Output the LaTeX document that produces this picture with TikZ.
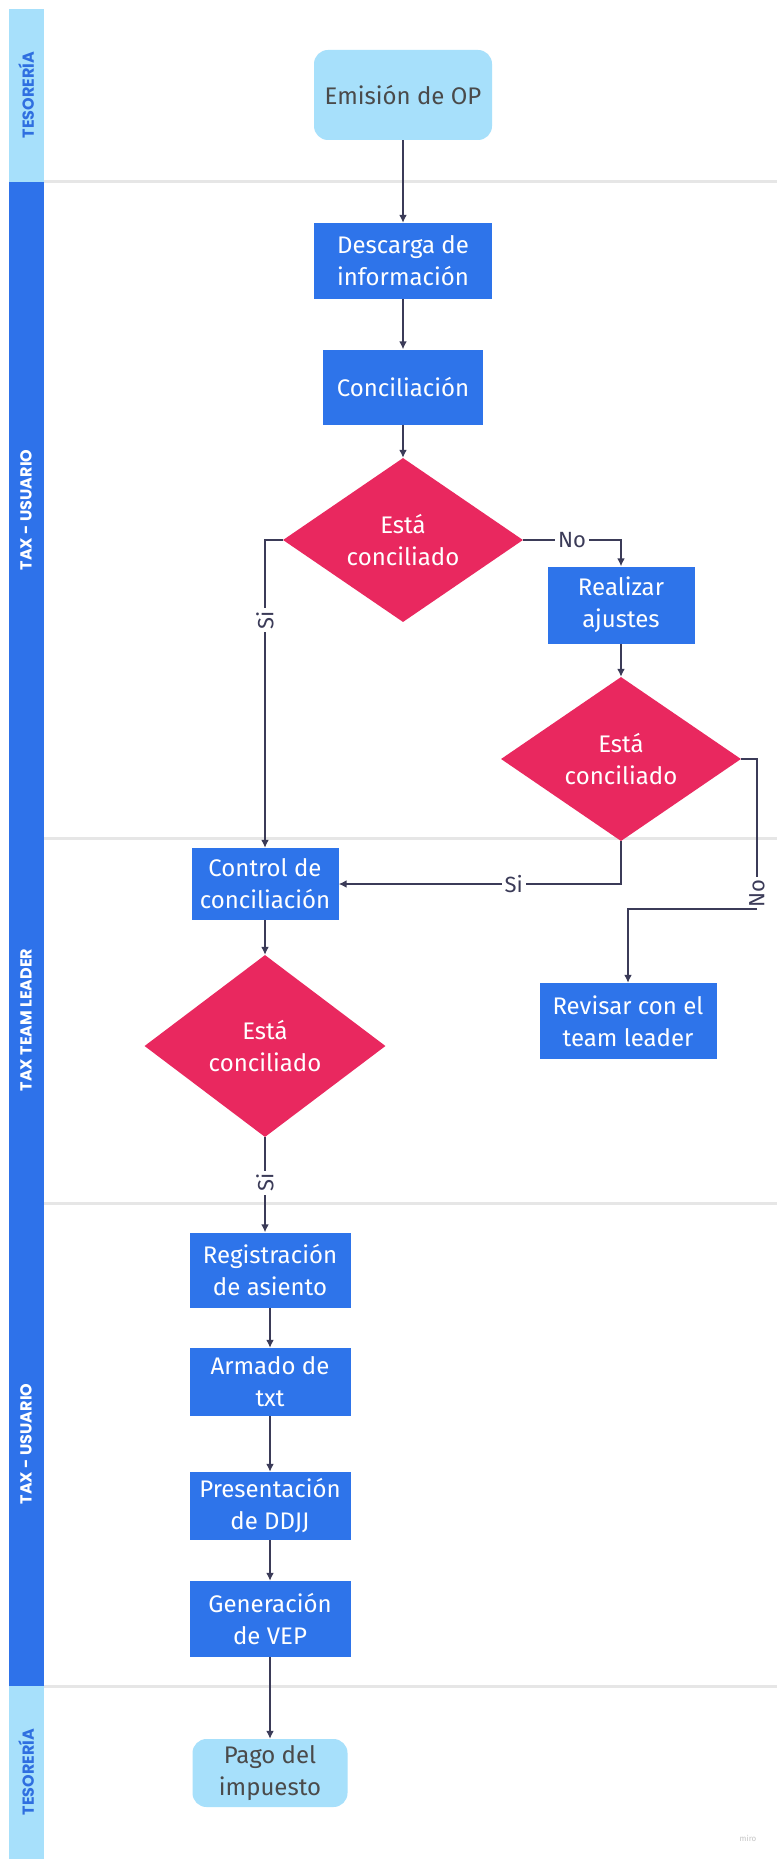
\documentclass[tikz,border=0pt]{standalone}
\usepackage{fontspec}
\setmainfont{Fira Sans}
\newfontfamily\lanefont{Poppins}
\usepackage{xcolor}
\definecolor{laneblue}{HTML}{2E72EA}
\definecolor{lanelight}{HTML}{A7E0FB}
\definecolor{taskblue}{HTML}{2E74EA}
\definecolor{decpink}{HTML}{E9285F}
\definecolor{flowline}{HTML}{3B3B58}
\definecolor{lanesep}{HTML}{E6E6E6}
\definecolor{tesotext}{HTML}{2F6FE0}
\definecolor{softtext}{HTML}{4A4A4A}
\definecolor{watermark}{HTML}{C4C4C4}
\usepackage{tikz}
\usetikzlibrary{arrows.meta,positioning,calc,shapes.geometric}
\tikzset{
  task/.style      = {fill=taskblue,text=white,align=center,inner sep=0pt,
                      font=\fontsize{24}{32}\selectfont},
  tesobox/.style   = {fill=lanelight,text=softtext,rounded corners=14pt,
                      align=center,inner sep=0pt,font=\fontsize{24}{32}\selectfont},
  decide/.style    = {diamond,fill=decpink,text=white,align=center,inner sep=0pt,
                      font=\fontsize{24}{32}\selectfont},
  lanetitle/.style = {rotate=90,font=\lanefont\bfseries\fontsize{16}{16}\selectfont},
  flow/.style      = {-{Latex[length=8pt,width=8pt]},line width=2pt,draw=flowline},
  yesno/.style     = {fill=white,inner sep=3pt,text=flowline,
                      font=\fontsize{22}{22}\selectfont},
  sepline/.style   = {draw=lanesep,line width=3pt},
}

\begin{document}
\begin{tikzpicture}[x=1pt,y=-1pt]
    \useasboundingbox[fill=white] (0,0) rectangle (777,1859);
    % swimlanes
    \fill[lanelight] (9,9) rectangle (44,182);
    \fill[laneblue] (9,182) rectangle (44,1686);
    \fill[lanelight] (9,1686) rectangle (44,1859);
    \foreach \y in {182,838,1203,1686}
      \draw[sepline] (44,\y) -- (777,\y);
    \node[lanetitle,text=tesotext] (lt1) at (26,95) {TESORERÍA};
    \node[lanetitle,text=white] (lt2) at (26,510) {TAX - USUARIO};
    \node[lanetitle,text=white] (lt3) at (26,1020) {TAX TEAM LEADER};
    \node[lanetitle,text=white] (lt4) at (26,1444) {TAX - USUARIO};
    \node[lanetitle,text=tesotext] (lt5) at (26,1772) {TESORERÍA};

    % steps
    \node[tesobox,minimum width=178pt,minimum height=90pt] (emision) at (403,95) {Emisión de OP};
    \node[task,minimum width=178pt,minimum height=76pt] (descarga) at (403,261) {Descarga de\\información};
    \node[task,minimum width=160pt,minimum height=75pt] (concil) at (403,387) {Conciliación};
    \node[decide,minimum width=240pt,minimum height=154pt] (dec1) at (403,540) {Está\\conciliado};
    \node[task,minimum width=147pt,minimum height=77pt] (ajustes) at (621,605) {Realizar\\ajustes};
    \node[decide,minimum width=240pt,minimum height=154pt] (dec2) at (621,759) {Está\\conciliado};
    \node[task,minimum width=147pt,minimum height=72pt] (control) at (265,884) {Control de\\conciliación};
    \node[decide,minimum width=241pt,minimum height=182pt] (dec3) at (265,1046) {Está\\conciliado};
    \node[task,minimum width=177pt,minimum height=76pt] (revisar) at (628,1021) {Revisar con el\\team leader};
    \node[task,minimum width=161pt,minimum height=75pt] (registro) at (270,1270) {Registración\\de asiento};
    \node[task,minimum width=161pt,minimum height=68pt] (armado) at (270,1382) {Armado de\\txt};
    \node[task,minimum width=161pt,minimum height=68pt] (presenta) at (270,1506) {Presentación\\de DDJJ};
    \node[task,minimum width=161pt,minimum height=76pt] (vep) at (270,1619) {Generación\\de VEP};
    \node[tesobox,minimum width=155pt,minimum height=68pt] (pago) at (270,1773) {Pago del\\impuesto};
    \coordinate (nobend) at (757,909);

    % connectors
    \draw[flow] (emision) -- (descarga);
    \draw[flow] (descarga) -- (concil);
    \draw[flow] (concil) -- (dec1);
    \draw[flow] (dec1.east) -| node[yesno,pos=0.25] {No} (ajustes.north);
    \draw[flow] (ajustes) -- (dec2);
    \draw[flow] (dec1.west) -| node[yesno,rotate=90,pos=0.63] {Si} (control.north);
    \draw[flow] (dec2.south) |- node[yesno,pos=0.69] {Si} (control.east);
    \draw[line width=2pt,draw=flowline] (dec2.east) -| node[yesno,rotate=90,pos=0.95] {No} (nobend);
    \draw[flow] (nobend) -| (revisar.north);
    \draw[flow] (control) -- (dec3);
    \draw[flow] (dec3.south) -- node[yesno,rotate=90,pos=0.48] {Si} (dec3.south |- registro.north);
    \draw[flow] (registro) -- (armado);
    \draw[flow] (armado) -- (presenta);
    \draw[flow] (presenta) -- (vep);
    \draw[flow] (vep) -- (pago);

    \node[text=watermark,font=\fontsize{8}{8}\selectfont] (miro) at (748,1838) {miro};
  \end{tikzpicture}
\end{document}
